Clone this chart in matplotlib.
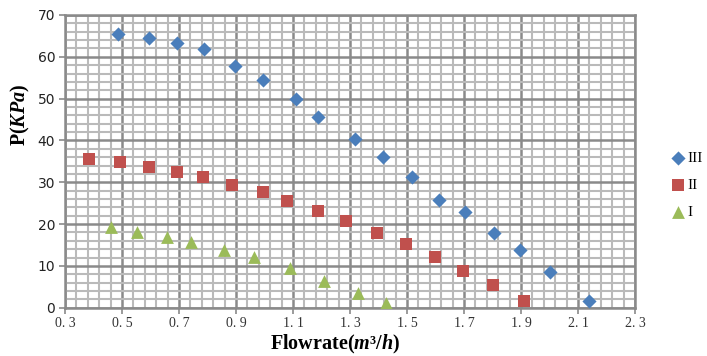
import matplotlib
matplotlib.use("Agg")
import numpy as np
import matplotlib.pyplot as plt
from matplotlib.ticker import MultipleLocator, FixedLocator, FixedFormatter

# Pump curves: pressure vs flowrate for three operating conditions
flow_III = [0.485, 0.594, 0.692, 0.786, 0.898, 0.993, 1.110, 1.188, 1.318, 1.415,
            1.516, 1.613, 1.704, 1.805, 1.895, 2.000, 2.140]
pres_III = [65.5, 64.5, 63.3, 61.9, 57.8, 54.4, 49.8, 45.7, 40.3, 36.0,
            31.3, 25.8, 22.9, 17.8, 13.8, 8.6, 1.7]

flow_II = [0.385, 0.493, 0.594, 0.692, 0.785, 0.886, 0.994, 1.080, 1.189, 1.286,
           1.394, 1.495, 1.597, 1.698, 1.800, 1.910]
pres_II = [35.6, 34.8, 33.7, 32.5, 31.2, 29.4, 27.7, 25.6, 23.1, 20.8,
           17.9, 15.2, 12.1, 8.8, 5.4, 1.7]

flow_I = [0.461, 0.554, 0.659, 0.741, 0.858, 0.962, 1.089, 1.209, 1.329, 1.426]
pres_I = [19.2, 18.2, 16.8, 15.8, 13.8, 12.2, 9.4, 6.5, 3.4, 1.1]

series_labels = ["III", "II", "I"]
x_ticks = [0.3, 0.5, 0.7, 0.9, 1.1, 1.3, 1.5, 1.7, 1.9, 2.1, 2.3]
x_tick_labels = ["0. 3", "0. 5", "0. 7", "0. 9", "1. 1", "1. 3", "1. 5",
                 "1. 7", "1. 9", "2. 1", "2. 3"]
y_ticks = [0, 10, 20, 30, 40, 50, 60, 70]

plt.rcParams["mathtext.fontset"] = "custom"
plt.rcParams["mathtext.rm"] = "Liberation Serif:bold"
plt.rcParams["mathtext.it"] = "Liberation Serif:italic:bold"
plt.rcParams["mathtext.bf"] = "Liberation Serif:bold"

fig = plt.figure(figsize=(7.07, 3.56), dpi=100)
ax = fig.add_axes([65 / 707, 48.3 / 356, 570 / 707, 292.7 / 356])

ax.set_xlim(0.3, 2.3)
ax.set_ylim(0, 70)

# minor grid: five cells per major step, starting from the axis origin
x_minor = np.round(0.3 + 0.04 * np.arange(51), 4)
ax.xaxis.set_major_locator(FixedLocator(x_ticks))
ax.xaxis.set_major_formatter(FixedFormatter(x_tick_labels))
ax.xaxis.set_minor_locator(FixedLocator(x_minor))
ax.yaxis.set_major_locator(FixedLocator(y_ticks))
ax.yaxis.set_minor_locator(MultipleLocator(2))

ax.grid(which="minor", color="#bababa", linewidth=1.5, zorder=0)
ax.grid(which="major", color="#8a8a8a", linewidth=1.8, zorder=0.5)
ax.set_axisbelow(True)

for side in ["left", "bottom", "right", "top"]:
    ax.spines[side].set_color("#8a8a8a")
    ax.spines[side].set_linewidth(1.8)

ax.tick_params(axis="both", which="minor", length=0)
ax.tick_params(axis="y", which="major", length=4, color="#8a8a8a", width=1.2,
               labelsize=10, labelcolor="#222222", pad=3)
ax.tick_params(axis="x", which="major", length=4, color="#8a8a8a", width=1.2,
               labelsize=10, labelcolor="#333333", pad=3)
for lab in ax.get_xticklabels():
    lab.set_family("Liberation Serif")

ax.scatter(flow_III, pres_III, marker="D", s=52, color="#4a7ebb", linewidths=0,
           label=series_labels[0], zorder=3)
ax.scatter(flow_II, pres_II, marker="s", s=80, color="#c0504d", linewidths=0,
           label=series_labels[1], zorder=3)
ax.scatter(flow_I, pres_I, marker="^", s=85, color="#9bbb59", linewidths=0,
           label=series_labels[2], zorder=3)

ax.set_xlabel(r"Flowrate($\mathit{m³/h}$)", fontsize=14.5, fontweight="bold",
              family="Liberation Serif")
ax.set_ylabel(r"P($\mathit{KPa}$)", fontsize=14.5, fontweight="bold",
              family="Liberation Serif")
ax.xaxis.set_label_coords(0.474, -0.088)
ax.yaxis.set_label_coords(-0.058, 0.658)

leg = fig.legend(loc="center left", bbox_to_anchor=(664 / 707, 1 - 185 / 356),
                 frameon=False, prop={"family": "Liberation Serif", "size": 11},
                 handletextpad=0.1, labelspacing=0.85, handlelength=1.0,
                 borderaxespad=0)

fig.savefig("out.png", dpi=100, facecolor="white")
